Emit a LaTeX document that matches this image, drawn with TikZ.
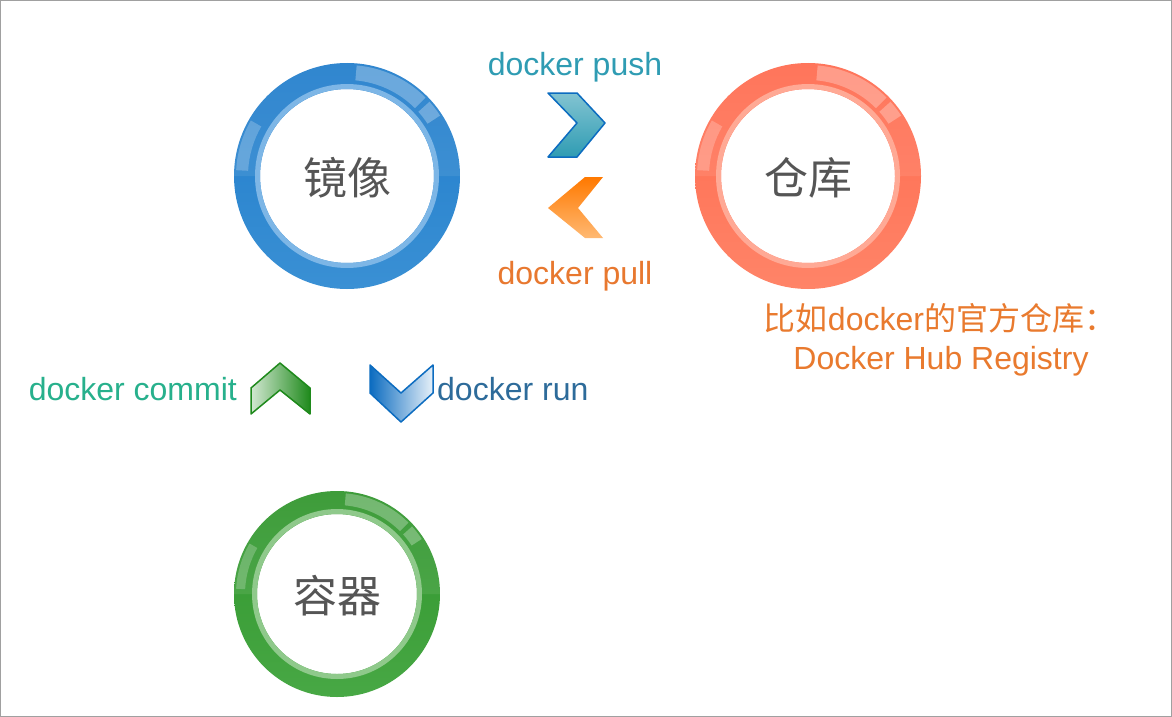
\documentclass[tikz,border=0pt]{standalone}
\usepackage{fontspec}
\setmainfont{Liberation Sans}
\newfontfamily\cjk{Noto Sans CJK SC}
\definecolor{bdark}{HTML}{0C6CC0}
\definecolor{btop}{HTML}{1F7CCB}
\definecolor{blight}{HTML}{3A90D4}
\definecolor{bband}{HTML}{7DB6E6}
\definecolor{rdark}{HTML}{FF5C3E}
\definecolor{rtop}{HTML}{FF6A4E}
\definecolor{rlight}{HTML}{FF8468}
\definecolor{rband}{HTML}{FFA995}
\definecolor{gdark}{HTML}{1F8A1C}
\definecolor{gtop}{HTML}{2E942A}
\definecolor{glight}{HTML}{48A845}
\definecolor{gband}{HTML}{8FC98B}
\definecolor{pushc}{HTML}{2F9CB3}
\definecolor{pullc}{HTML}{E8782F}
\definecolor{commitc}{HTML}{27B08C}
\definecolor{runc}{HTML}{2D6B9A}
\definecolor{notec}{HTML}{E97A2E}
\definecolor{labelc}{HTML}{555555}
\definecolor{framec}{HTML}{A0A0A0}
\newcommand{\glosspiece}[7]{\fill[#7] ([shift={(#5:#3)}]#1,#2) arc[start angle=#5,end angle=#6,radius=#3] -- ([shift={(#6:#4)}]#1,#2) arc[start angle=#6,end angle=#5,radius=#4] -- cycle;}
\newcommand{\glossring}[8]{%
  \shade[even odd rule, top color=#6, middle color=#5, bottom color=#7] (#1,#2) circle[radius=#3] (#1,#2) circle[radius=#4];
  \fill[#8, even odd rule] (#1,#2) circle[radius=#4+5] (#1,#2) circle[radius=#4];
  \glosspiece{#1}{#2}{#3}{#4+5}{0}{-180}{white,opacity=.08}
  \glosspiece{#1}{#2}{#3-2}{#4+9}{-45}{-85}{white,opacity=.28}
  \glosspiece{#1}{#2}{#3-2}{#4+9}{-33}{-42}{white,opacity=.28}
  \glosspiece{#1}{#2}{#3-2}{#4+12}{-150}{-177}{white,opacity=.22}
}
\tikzset{
  lbl/.style={font=\fontsize{32}{36}\selectfont, inner sep=0pt},
  ringlbl/.style={font=\cjk\fontsize{44}{48}\selectfont, text=labelc, inner sep=0pt},
}
\begin{document}
\begin{tikzpicture}[x=1pt,y=-1pt]
\useasboundingbox (0,0) rectangle (1172,717);
\fill[white] (0,0) rectangle (1172,717);
\draw[framec, line width=1pt] (0.5,0.5) rectangle (1171.5,716.5);

% rings
\glossring{347}{176}{113}{87}{bdark}{btop}{blight}{bband}
\glossring{808}{176}{113}{87}{rdark}{rtop}{rlight}{rband}
\glossring{337}{594}{103}{80}{gdark}{gtop}{glight}{gband}

\node[ringlbl] (img) at (347,178) {镜像};
\node[ringlbl] (repo) at (808,178) {仓库};
\node[ringlbl] (cont) at (337,596) {容器};

% chevrons
\shade[top color=pushc!60!white, bottom color=pushc, draw=bdark, line width=1.5pt, line join=round]
  (548,93) -- (577,93) -- (605,123) -- (577,157) -- (548,157) -- (577,123) -- cycle;
\shade[top color=orange!95!red, bottom color=orange!55!white, line join=round]
  (585,177) -- (603,177) -- (578,208) -- (603,238) -- (585,238) -- (548,208) -- cycle;
\shade[left color=gdark!20!white, right color=gdark, draw=gdark, line width=1.5pt, line join=round]
  (251,388) -- (280,363) -- (310,388) -- (310,414) -- (280,390) -- (251,414) -- cycle;
\shade[left color=bdark, right color=bdark!10!white, draw=bdark, line width=1.5pt, line join=round]
  (370,365) -- (401,393) -- (433,365) -- (433,393) -- (401,422) -- (370,393) -- cycle;

% labels
\node[lbl, text=pushc, anchor=base] (push) at (575,75) {docker push};
\node[lbl, text=pullc, anchor=base] (pull) at (575,284) {docker pull};
\node[lbl, text=commitc, anchor=base east] (commit) at (237,400) {docker commit};
\node[lbl, text=runc, anchor=base west] (run) at (437,400) {docker run};
\node[lbl, text=notec, anchor=base] (note1) at (940,330) {{\cjk 比如}docker{\cjk 的官方仓库：}};
\node[lbl, text=notec, anchor=base] (note2) at (941,369) {Docker Hub Registry};
\end{tikzpicture}
\end{document}
